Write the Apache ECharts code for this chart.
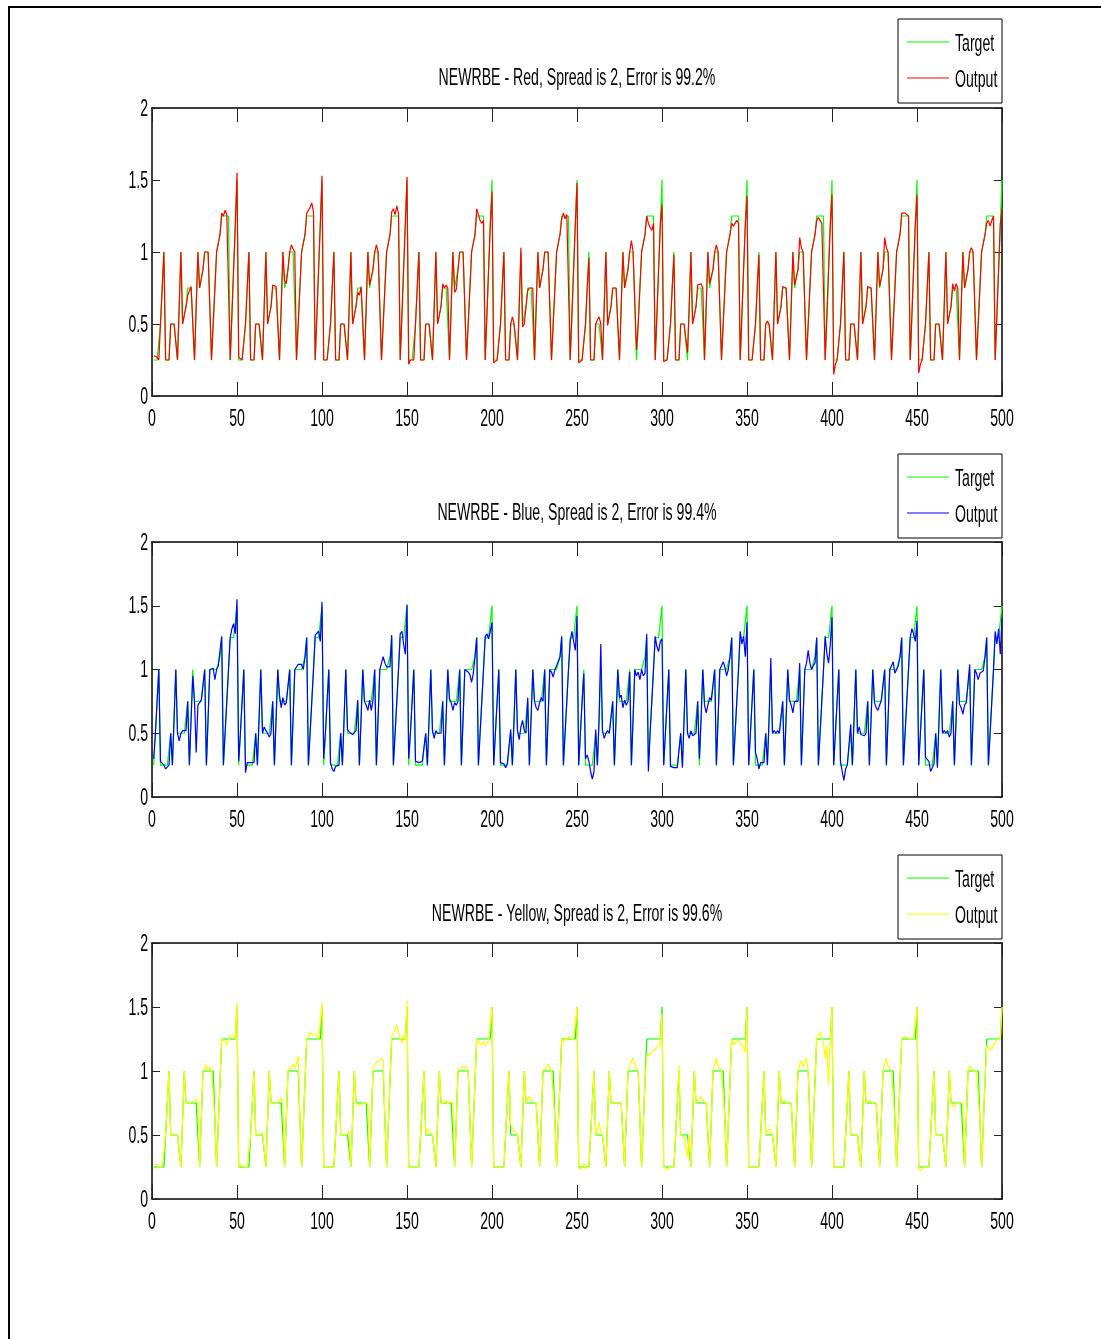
<!DOCTYPE html>
<html>
<head>
<meta charset="utf-8">
<script src="https://cdn.jsdelivr.net/npm/echarts/dist/echarts.min.js"></script>
<style>
  html, body { margin: 0; padding: 0; background: #fff; }
  #chart { width: 1101px; height: 1339px; }
</style>
</head>
<body>
<div id="chart"></div>
<script>
// ---------------------------------------------------------------------------
// data (sample index 1..500)
// every target repeats the same 50-sample pattern in the picture
var redTargetCycle = [
    0.25, 0.25, 0.25, 0.25, 0.5, 0.75, 1, 0.25, 0.25, 0.25,
    0.5, 0.5, 0.5, 0.5, 0.25, 0.62, 1, 0.5, 0.5, 0.62,
    0.75, 0.75, 0.75, 0.75, 0.25, 0.62, 1, 0.75, 0.75, 0.88,
    1, 1, 1, 1, 0.25, 0.5, 0.75, 1, 1, 1.12,
    1.25, 1.25, 1.25, 1.25, 1.25, 0.25, 0.56, 0.88, 1.19, 1.5
];
var blueTargetCycle = [
    0.25, 0.5, 0.75, 1, 0.25, 0.25, 0.25, 0.25, 0.25, 0.25,
    0.5, 0.25, 0.62, 1, 0.5, 0.5, 0.5, 0.5, 0.5, 0.5,
    0.75, 0.25, 0.62, 1, 0.75, 0.75, 0.75, 0.75, 0.75, 0.75,
    1, 0.25, 0.62, 1, 1, 1, 1, 1, 1, 1.1,
    1.25, 0.25, 0.5, 0.75, 1, 1.25, 1.25, 1.25, 1.25, 1.5
];
var yellowTargetCycle = [
    0.25, 0.25, 0.25, 0.25, 0.25, 0.25, 0.25, 0.5, 0.75, 1,
    0.5, 0.5, 0.5, 0.5, 0.5, 0.5, 0.25, 0.62, 1, 0.75,
    0.75, 0.75, 0.75, 0.75, 0.75, 0.75, 0.75, 0.25, 0.62, 1,
    1, 1, 1, 1, 1, 1, 0.62, 0.25, 0.58, 0.92,
    1.25, 1.25, 1.25, 1.25, 1.25, 1.25, 1.25, 1.25, 1.25, 1.5
];

// output = target, except at these [sample, value] points
var redOutputDiffs = [
    [1, 0.28], [2, 0.27], [3, 0.27], [21, 0.70], [22, 0.73], [23, 0.76], [41, 1.27], [42, 1.25], [43, 1.29], [44, 1.26], [50, 1.55],
    [51, 0.27], [52, 0.27], [71, 0.77], [72, 0.77], [73, 0.76], [78, 0.8], [79, 0.78], [82, 1.05], [83, 1.02], [91, 1.27], [92, 1.29], [93, 1.31], [94, 1.34], [95, 1.28], [100, 1.53],
    [121, 0.72], [122, 0.70], [123, 0.76], [128, 0.77], [129, 0.77], [132, 1.05], [141, 1.28], [142, 1.3], [143, 1.26], [144, 1.32], [145, 1.27], [150, 1.52],
    [151, 0.22], [171, 0.78], [172, 0.75], [173, 0.77], [178, 0.72], [179, 0.74], [191, 1.3], [192, 1.26], [193, 1.22], [194, 1.2], [195, 1.22], [200, 1.42],
    [201, 0.23], [202, 0.24], [212, 0.55], [217, 1.03], [218, 0.48], [221, 0.73], [241, 1.23], [242, 1.27], [243, 1.23], [244, 1.26], [250, 1.48],
    [251, 0.23], [252, 0.23], [257, 0.96], [262, 0.53], [263, 0.55], [268, 0.49], [282, 1.08], [285, 0.32], [292, 1.2], [293, 1.17], [294, 1.15], [295, 1.2], [300, 1.33],
    [301, 0.24], [307, 0.98], [315, 0.3], [321, 0.77], [322, 0.78], [323, 0.78], [328, 0.78], [329, 0.79], [332, 1.05], [341, 1.2], [342, 1.18], [343, 1.17], [344, 1.22], [345, 1.2], [350, 1.39],
    [357, 0.98], [362, 0.52], [371, 0.76], [372, 0.76], [378, 0.77], [379, 0.77], [381, 1.1], [382, 1.03], [391, 1.22], [392, 1.24], [393, 1.22], [394, 1.2], [395, 1.2], [400, 1.4],
    [401, 0.15], [402, 0.22], [421, 0.76], [422, 0.76], [428, 0.76], [431, 1.1], [432, 1.03], [441, 1.27], [442, 1.28], [443, 1.27], [444, 1.26], [450, 1.4],
    [451, 0.16], [452, 0.22], [471, 0.78], [472, 0.73], [473, 0.78], [482, 1.03], [491, 1.2], [492, 1.22], [493, 1.18], [494, 1.22], [500, 1.3]
];
var blueOutputDiffs = [
    [1, 0.3], [5, 0.28], [6, 0.27], [8, 0.22], [9, 0.22], [16, 0.44], [18, 0.52], [19, 0.52], [20, 0.52], [24, 0.95], [26, 0.35], [27, 0.72], [28, 0.74], [29, 0.76], [30, 0.77],
    [36, 1.01], [37, 0.92], [39, 1.03], [40, 1.02], [41, 1.26], [47, 1.32], [48, 1.36], [49, 1.28], [50, 1.55],
    [51, 0.28], [55, 0.19], [56, 0.27], [57, 0.28], [58, 0.27], [59, 0.28], [60, 0.27], [66, 0.55], [67, 0.52], [69, 0.47], [75, 0.8], [76, 0.7], [77, 0.78], [78, 0.72], [79, 0.74],
    [86, 1.04], [87, 1.05], [88, 1.04], [96, 1.27], [97, 1.28], [98, 1.3], [99, 1.22], [100, 1.53],
    [101, 0.3], [105, 0.27], [106, 0.22], [107, 0.2], [108, 0.24], [115, 0.53], [116, 0.51], [117, 0.52], [118, 0.49], [120, 0.52], [121, 0.76], [126, 0.72], [127, 0.68], [128, 0.76], [129, 0.68], [130, 0.76],
    [135, 1.05], [136, 1.1], [137, 1.05], [138, 1.02], [139, 1.03], [140, 1.02], [141, 1.27], [146, 1.28], [147, 1.3], [148, 1.2], [149, 1.12], [150, 1.51],
    [151, 0.3], [155, 0.28], [156, 0.28], [157, 0.27], [158, 0.27], [159, 0.28], [160, 0.27], [165, 0.52], [166, 0.46], [167, 0.52], [169, 0.51], [175, 0.77], [176, 0.74], [177, 0.68], [178, 0.74], [179, 0.72],
    [186, 0.98], [187, 0.96], [188, 0.9], [189, 0.97], [196, 1.26], [197, 1.28], [198, 1.24], [199, 1.3], [200, 1.37],
    [205, 0.27], [206, 0.26], [207, 0.26], [208, 0.23], [209, 0.26], [210, 0.27], [211, 0.53], [215, 0.52], [216, 0.45], [217, 0.55], [218, 0.6], [219, 0.52], [221, 0.78], [226, 0.7], [227, 0.68], [228, 0.74], [229, 0.78],
    [235, 0.98], [236, 0.94], [238, 1.03], [239, 1.02], [241, 1.26], [246, 1.22], [247, 1.3], [248, 1.22], [249, 1.15], [250, 1.42],
    [254, 0.97], [255, 0.3], [256, 0.33], [257, 0.28], [258, 0.2], [259, 0.14], [260, 0.2], [261, 0.53], [264, 1.2], [265, 0.52], [266, 0.46], [268, 0.52], [275, 0.78], [276, 0.8], [277, 0.7], [278, 0.76], [279, 0.72],
    [281, 0.98], [285, 0.95], [286, 0.98], [287, 0.92], [289, 0.95], [290, 0.97], [291, 1.28], [292, 0.2], [296, 1.26], [297, 1.18], [298, 1.14], [299, 1.22], [300, 1.24],
    [305, 0.24], [306, 0.23], [307, 0.23], [308, 0.22], [309, 0.23], [310, 0.24], [312, 0.23], [316, 0.46], [317, 0.52], [318, 0.48], [319, 0.49], [322, 0.3], [325, 0.72], [326, 0.66], [327, 0.72], [328, 0.78], [329, 0.76], [330, 0.77],
    [335, 1.03], [336, 1.06], [337, 1.02], [338, 0.95], [346, 1.3], [347, 1.2], [348, 1.26], [349, 1.1], [350, 1.37],
    [355, 0.35], [356, 0.3], [357, 0.22], [358, 0.27], [359, 0.26], [360, 0.27], [364, 1.09], [366, 0.52], [368, 0.52], [375, 0.76], [376, 0.72], [377, 0.66], [378, 0.75], [379, 0.76],
    [381, 1.05], [385, 1.05], [386, 1.15], [387, 1.05], [389, 1.03], [390, 1.05], [396, 1.26], [397, 1.12], [398, 1.05], [399, 1.2], [400, 1.41],
    [405, 0.28], [406, 0.2], [407, 0.13], [408, 0.22], [410, 0.26], [411, 0.57], [416, 0.55], [417, 0.49], [419, 0.48], [425, 0.74], [426, 0.7], [427, 0.68], [428, 0.72], [429, 0.76], [430, 0.76],
    [435, 1.03], [436, 1.06], [437, 0.97], [439, 1.03], [446, 1.25], [447, 1.32], [448, 1.28], [449, 1.22], [450, 1.38],
    [455, 0.31], [456, 0.3], [457, 0.28], [458, 0.2], [459, 0.23], [460, 0.26], [462, 0.23], [466, 0.52], [468, 0.52], [469, 0.47], [475, 0.73], [476, 0.7], [477, 0.65], [478, 0.72], [479, 0.74],
    [481, 1.04], [485, 0.97], [486, 0.92], [487, 0.97], [488, 0.98], [489, 0.99], [496, 1.3], [497, 1.2], [498, 1.32], [499, 1.12], [500, 1.4]
];
var yellowOutputDiffs = [
    [1, 0.27], [2, 0.26], [3, 0.27], [24, 0.76], [25, 0.77], [26, 0.78], [31, 1.02], [32, 1.05], [33, 1.0], [34, 1.03], [43, 1.23], [44, 1.2], [45, 1.24], [46, 1.27], [47, 1.27], [48, 1.28], [50, 1.53],
    [52, 0.27], [53, 0.27], [65, 0.52], [66, 0.53], [75, 0.77], [76, 0.79], [82, 1.03], [83, 1.05], [84, 1.02], [85, 1.06], [86, 1.12], [92, 1.27], [93, 1.3], [94, 1.31], [95, 1.28], [96, 1.27], [97, 1.28], [100, 1.53],
    [115, 0.51], [116, 0.53], [121, 0.73], [122, 0.72], [123, 0.74], [131, 1.05], [132, 1.07], [133, 1.06], [134, 1.08], [135, 1.1], [136, 1.08],
    [141, 1.27], [142, 1.3], [143, 1.32], [144, 1.36], [145, 1.3], [146, 1.25], [147, 1.22], [148, 1.28], [149, 1.24], [150, 1.55],
    [162, 0.55], [163, 0.53], [164, 0.52], [173, 0.77], [174, 0.74], [175, 0.76], [182, 1.02], [183, 1.04], [184, 1.05], [185, 1.03], [192, 1.24], [193, 1.22], [194, 1.2], [195, 1.23], [196, 1.2], [197, 1.22], [198, 1.24],
    [211, 0.58], [212, 0.55], [213, 0.53], [214, 0.52], [221, 0.78], [222, 0.8], [223, 0.78], [224, 0.76], [232, 1.03], [233, 1.05], [234, 1.03], [242, 1.23], [243, 1.26], [244, 1.24], [245, 1.27], [246, 1.25],
    [252, 0.23], [254, 0.28], [255, 0.24], [262, 0.52], [263, 0.6], [264, 0.52], [282, 1.08], [283, 1.1], [284, 1.05], [285, 1.03],
    [291, 1.12], [292, 1.12], [293, 1.13], [294, 1.15], [295, 1.15], [296, 1.17], [297, 1.18], [298, 1.2], [299, 1.22], [300, 1.45],
    [302, 0.24], [303, 0.23], [304, 0.24], [310, 1.04], [313, 0.48], [314, 0.4], [315, 0.33], [322, 0.78], [323, 0.8], [324, 0.77], [325, 0.78], [331, 1.05], [332, 1.1], [333, 1.04], [334, 1.03],
    [342, 1.2], [343, 1.22], [344, 1.24], [346, 1.23], [347, 1.2], [348, 1.18], [349, 1.15],
    [362, 0.53], [363, 0.55], [364, 0.54], [372, 0.77], [373, 0.76], [381, 1.05], [382, 1.08], [383, 1.03], [384, 1.07], [385, 1.1],
    [392, 1.28], [393, 1.3], [394, 1.27], [395, 1.22], [396, 1.1], [397, 1.2], [398, 0.89], [399, 1.22],
    [422, 0.77], [423, 0.78], [431, 1.06], [432, 1.1], [433, 1.04], [434, 1.02], [442, 1.27], [443, 1.26], [444, 1.26], [445, 1.27],
    [452, 0.22], [453, 0.24], [472, 0.72], [473, 0.75], [481, 1.04], [482, 1.02], [491, 1.2], [492, 1.18], [493, 1.16], [494, 1.18], [495, 1.2], [496, 1.22]
];

var xTicks = [0, 50, 100, 150, 200, 250, 300, 350, 400, 450, 500];
var yTicks = [0, 0.5, 1, 1.5, 2];
var titles = [
    'NEWRBE - Red, Spread is 2, Error is 99.2%',
    'NEWRBE - Blue, Spread is 2, Error is 99.4%',
    'NEWRBE - Yellow, Spread is 2, Error is 99.6%'
];
var legendNames = ['Target', 'Output'];
var PERIODS = 10;

// ---------------------------------------------------------------------------
// layout (pixels)
var layout = [
    {top: 108, height: 288, titleY: 78, legendTop: 19, color: '#ff0000'},
    {top: 542, height: 255, titleY: 513, legendTop: 454, color: '#0000ff'},
    {top: 943, height: 256, titleY: 914, legendTop: 855, color: '#ffff00'}
];
var GRID_LEFT = 152, GRID_WIDTH = 850;
var TARGET_COLOR = '#00ff00';
var FONT = '17px "Liberation Sans", Arial, sans-serif';
var SCALE_X = 0.83, SCALE_Y = 1.4; // the figure text is tall and narrow

function repeatCycle(cycle) {
    var out = [];
    for (var p = 0; p < PERIODS; p++) {
        for (var k = 0; k < cycle.length; k++) out.push(cycle[k]);
    }
    return out;
}

function applyDiffs(target, diffs) {
    var out = target.slice();
    diffs.forEach(function (d) { out[d[0] - 1] = d[1]; });
    return out;
}

function toPoints(values) {
    return values.map(function (v, i) { return [i + 1, v]; });
}

var targets = [repeatCycle(redTargetCycle), repeatCycle(blueTargetCycle), repeatCycle(yellowTargetCycle)];
var outputs = [
    applyDiffs(targets[0], redOutputDiffs),
    applyDiffs(targets[1], blueOutputDiffs),
    applyDiffs(targets[2], yellowOutputDiffs)
];

// ---------------------------------------------------------------------------
var chart = echarts.init(document.getElementById('chart'));

var axisLine = {show: true, onZero: false, lineStyle: {color: '#000', width: 1.5}};

var grids = [], xAxes = [], yAxes = [], series = [];
layout.forEach(function (l, g) {
    grids.push({left: GRID_LEFT, top: l.top, width: GRID_WIDTH, height: l.height});
    ['bottom', 'top'].forEach(function (pos) {
        xAxes.push({
            gridIndex: g, type: 'value', position: pos, min: 0, max: 500, interval: 50,
            axisLine: axisLine,
            axisTick: {show: true, inside: true, length: 14, lineStyle: {color: '#222', width: 1}},
            axisLabel: {show: false},
            splitLine: {show: false}
        });
    });
    ['left', 'right'].forEach(function (pos) {
        yAxes.push({
            gridIndex: g, type: 'value', position: pos, min: 0, max: 2, interval: 0.5,
            axisLine: axisLine,
            axisTick: {show: true, inside: true, length: 8, lineStyle: {color: '#222', width: 1}},
            axisLabel: {show: false},
            splitLine: {show: false}
        });
    });
    series.push({
        name: 'Target', type: 'line', xAxisIndex: 2 * g, yAxisIndex: 2 * g,
        data: toPoints(targets[g]), symbol: 'none', z: 2,
        lineStyle: {color: TARGET_COLOR, width: 1.2}
    });
    series.push({
        name: 'Output', type: 'line', xAxisIndex: 2 * g, yAxisIndex: 2 * g,
        data: toPoints(outputs[g]), symbol: 'none', z: 3,
        lineStyle: {color: l.color, width: 1.2}
    });
});

chart.setOption({
    animation: false,
    backgroundColor: '#fff',
    grid: grids,
    xAxis: xAxes,
    yAxis: yAxes,
    series: series
});

// ---------------------------------------------------------------------------
// texts, legends and frame
function txt(x, y, s, align) {
    return {
        type: 'text', x: x, y: y, scaleX: SCALE_X, scaleY: SCALE_Y, silent: true, z: 100,
        style: {
            text: s, x: 0, y: 0, font: FONT, fill: '#000',
            align: align, verticalAlign: 'middle',
            textAlign: align, textVerticalAlign: 'middle'
        }
    };
}

var elements = [];
elements.push({
    type: 'rect', silent: true, z: 90,
    shape: {x: 9, y: 7, width: 1200, height: 1400},
    style: {fill: 'none', stroke: '#000', lineWidth: 2}
});

layout.forEach(function (l, g) {
    elements.push(txt(GRID_LEFT + GRID_WIDTH / 2, l.titleY, titles[g], 'center'));

    // legend box
    var top = l.legendTop;
    elements.push({
        type: 'rect', silent: true, z: 95,
        shape: {x: 898, y: top, width: 104, height: 84},
        style: {fill: '#fff', stroke: '#000', lineWidth: 1}
    });
    [TARGET_COLOR, l.color].forEach(function (c, i) {
        var ly = top + 23 + i * 36;
        elements.push({
            type: 'line', silent: true, z: 96,
            shape: {x1: 907, y1: ly, x2: 949, y2: ly},
            style: {stroke: c, lineWidth: 1}
        });
        elements.push(txt(955, ly + 2, legendNames[i], 'left'));
    });

    // tick labels placed through the axes
    xTicks.forEach(function (v) {
        var p = chart.convertToPixel({gridIndex: g}, [v, 0]);
        elements.push(txt(p[0], p[1] + 23, String(v), 'center'));
    });
    yTicks.forEach(function (v) {
        var p = chart.convertToPixel({gridIndex: g}, [0, v]);
        elements.push(txt(p[0] - 4, p[1] + 1, String(v), 'right'));
    });
});

chart.setOption({graphic: elements});
</script>
</body>
</html>
